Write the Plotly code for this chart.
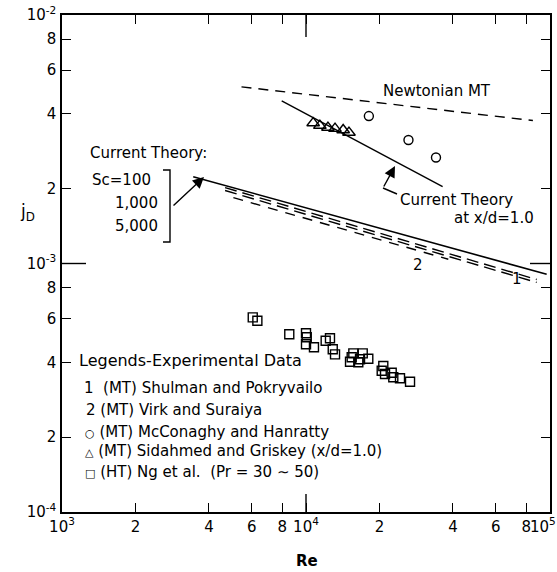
import plotly.graph_objects as go

# ---- data ----
re_newtonian = [5440, 85100]
jd_newtonian = [5.14e-3, 3.76e-3]

re_theory_xd1 = [7950, 36300]
jd_theory_xd1 = [4.51e-3, 2.04e-3]

re_theory_sc = [3450, 96900]
jd_theory_sc = [2.235e-3, 9.05e-4]

re_line1_upper = [4660, 88200]
jd_line1_upper = [2.02e-3, 8.62e-4]
re_line1_lower = [4660, 88200]
jd_line1_lower = [1.967e-3, 8.39e-4]

re_line2 = [5040, 38300]
jd_line2 = [1.84e-3, 1.04e-3]

re_mcconaghy = [18100, 26300, 34100]
jd_mcconaghy = [3.92e-3, 3.14e-3, 2.67e-3]

re_sidahmed = [10700, 11400, 12300, 13150, 14200, 15000]
jd_sidahmed = [3.675e-3, 3.59e-3, 3.525e-3, 3.49e-3, 3.445e-3, 3.365e-3]

re_ng = [6050, 6320, 8540, 10000, 10070, 10000, 10780, 12040, 12540, 12870,
         13150, 15150, 15630, 16650, 17080, 16380, 18000, 15390, 20740, 20430,
         21080, 22450, 22790, 24280, 26690]
jd_ng = [6.07e-4, 5.885e-4, 5.19e-4, 5.24e-4, 5.05e-4, 4.73e-4, 4.60e-4, 4.89e-4,
         5.0e-4, 4.515e-4, 4.31e-4, 4.025e-4, 4.35e-4, 4.116e-4, 4.35e-4, 4.003e-4,
         4.14e-4, 4.194e-4, 3.87e-4, 3.704e-4, 3.592e-4, 3.636e-4, 3.484e-4,
         3.452e-4, 3.345e-4]

x_tickvals = [1e3, 2e3, 4e3, 6e3, 8e3, 1e4, 2e4, 4e4, 6e4, 8e4, 1e5]
x_ticktext = ["10<sup>3</sup>", "2", "4", "6", "8", "10<sup>4</sup>",
              "2", "4", "6", "8", "10<sup>5</sup>\u00a0\u00a0\u00a0"]
y_tickvals = [1e-4, 2e-4, 4e-4, 6e-4, 8e-4, 1e-3, 2e-3, 4e-3, 6e-3, 8e-3, 1e-2]
y_ticktext = ["10<sup>-4</sup>", "2", "4", "6", "8", "10<sup>-3</sup>",
              "2", "4", "6", "8", "10<sup>-2</sup>"]

legend_title = "Legends-Experimental Data"
legend_items = [
    "1  (MT) Shulman and Pokryvailo",
    "2 (MT) Virk and Suraiya",
    "<span style='font-size:11px'>○</span> (MT) McConaghy and Hanratty",
    "<span style='font-size:11px'>△</span> (MT) Sidahmed and Griskey (x/d=1.0)",
    "<span style='font-size:11px'>□</span> (HT) Ng et al.  (Pr = 30 ∼ 50)",
]

FONT = "DejaVu Sans, Arial, sans-serif"
BLK = "#000000"

fig = go.Figure()

def add_line(x, y, dash, width=1.4):
    fig.add_trace(go.Scatter(x=x, y=y, mode="lines",
                             line=dict(color=BLK, width=width, dash=dash),
                             showlegend=False, hoverinfo="skip"))

add_line(re_newtonian, jd_newtonian, "10px,7px")
add_line(re_theory_xd1, jd_theory_xd1, "solid")
add_line(re_theory_sc, jd_theory_sc, "solid", 1.6)
add_line(re_line1_upper, jd_line1_upper, "12px,6px")
add_line(re_line1_lower, jd_line1_lower, "12px,6px")
add_line(re_line2, jd_line2, "10px,8px")

def add_markers(x, y, symbol, size):
    fig.add_trace(go.Scatter(x=x, y=y, mode="markers",
                             marker=dict(symbol=symbol, size=size, color=BLK,
                                         line=dict(color=BLK, width=1.4)),
                             showlegend=False, hoverinfo="skip"))

add_markers(re_mcconaghy, jd_mcconaghy, "circle-open", 9)
add_markers(re_sidahmed, jd_sidahmed, "triangle-up-open", 11)
add_markers(re_ng, jd_ng, "square-open", 9)

W, H = 557, 572
L, R, T, B = 62, 7, 15, 60
pw, ph = W - L - R, H - T - B

def px(xpix):
    return (xpix - L) / pw

def py(ypix):
    return (H - B - ypix) / ph

axis_common = dict(showgrid=False, zeroline=False, showline=True, linecolor=BLK,
                   linewidth=1.5, ticks="inside", ticklen=9, tickwidth=1.3,
                   tickcolor=BLK, mirror="ticks", tickmode="array",
                   tickfont=dict(family=FONT, size=15, color=BLK))

fig.update_layout(
    width=W, height=H,
    margin=dict(l=L, r=R, t=T, b=B, autoexpand=False),
    paper_bgcolor="white", plot_bgcolor="white",
    xaxis=dict(type="log", range=[3, 5], tickvals=x_tickvals, ticktext=x_ticktext,
               automargin=False, ticklabeloverflow="allow", tickangle=0, **axis_common),
    yaxis=dict(type="log", range=[-4, -2], tickvals=y_tickvals, ticktext=y_ticktext,
               automargin=False, ticklabelstandoff=1, ticklabeloverflow="allow",
               **axis_common),
    showlegend=False,
)

shapes = []
ln = dict(color=BLK, width=1.4)
# longer decade ticks (10^4 on x, 10^-3 on y), on both sides
shapes.append(dict(type="line", xref="paper", yref="paper", x0=0.5, x1=0.5, y0=0, y1=18 / ph, line=ln))
shapes.append(dict(type="line", xref="paper", yref="paper", x0=0.5, x1=0.5, y0=1, y1=1 - 22 / ph, line=ln))
shapes.append(dict(type="line", xref="paper", yref="paper", x0=0, x1=24 / pw, y0=0.5, y1=0.5, line=ln))
shapes.append(dict(type="line", xref="paper", yref="paper", x0=1, x1=1 - 20 / pw, y0=0.5, y1=0.5, line=ln))
# bracket for Sc values
shapes.append(dict(type="path", xref="paper", yref="paper",
                   path=f"M {px(163)} {py(170)} L {px(170)} {py(170)} L {px(170)} {py(242)} L {px(163)} {py(242)}",
                   line=ln))
# bent leader for "Current Theory at x/d=1.0"
shapes.append(dict(type="line", xref="paper", yref="paper",
                   x0=px(383), y0=py(188), x1=px(397), y1=py(194), line=ln))
fig.update_layout(shapes=shapes)

ann = []

def text(x, y, s, xanchor="left", size=15):
    ann.append(dict(xref="paper", yref="paper", x=px(x), y=py(y), text=s,
                    showarrow=False, xanchor=xanchor, yanchor="middle",
                    font=dict(family=FONT, size=size, color=BLK)))

text(437, 91, "Newtonian MT", "center")
text(398, 200, "Current Theory")
text(452, 218, "at x/d=1.0")
text(88, 153, "Current Theory:")
text(90, 180, "Sc=100")
text(160, 203, "1,000", "right")
text(160, 226, "5,000", "right")
text(418, 265, "2", "center")
text(517, 279, "1", "center")
text(77, 360, legend_title, size=16)
legend_rows = [(82, 388), (84, 410), (83, 432), (83, 451), (83, 472)]
for (lx, ly), item in zip(legend_rows, legend_items):
    text(lx, ly, item)
text(307, 561, "<b>Re</b>", "center", 15)
text(27, 212, "j<sub>D</sub>", "center", 17)

# arrows
ann.append(dict(xref="paper", yref="paper", x=px(204), y=py(177), ax=-32, ay=30,
                text="", showarrow=True, arrowhead=2, arrowsize=1.6, arrowwidth=1.4,
                arrowcolor=BLK))
ann.append(dict(xref="paper", yref="paper", x=px(395), y=py(166), ax=-12, ay=22,
                text="", showarrow=True, arrowhead=2, arrowsize=1.6, arrowwidth=1.4,
                arrowcolor=BLK))
fig.update_layout(annotations=ann)

fig.write_html("out.html", config={"displayModeBar": False},
               post_script="document.body.style.margin='0';")
